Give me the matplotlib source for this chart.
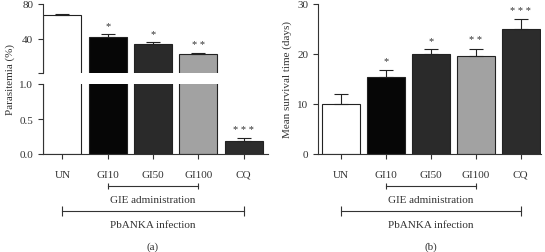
import numpy as np
import matplotlib
matplotlib.use("Agg")
import matplotlib.pyplot as plt
from matplotlib.transforms import blended_transform_factory

plt.rcParams['font.family'] = ['Liberation Serif', 'DejaVu Serif']
plt.rcParams['font.size'] = 8

groups = ['UN', 'GI10', 'GI50', 'GI100', 'CQ']
colors = ['#ffffff', '#060606', '#2a2a2a', '#a2a2a2', '#2c2c2c']

# (a) parasitemia (%)
para_mean = [67.0, 42.0, 34.5, 22.5, 0.18]
para_err = [1.0, 3.5, 2.0, 1.0, 0.05]
para_sig = ['', '*', '*', '* *', '* * *']

# (b) mean survival time (days)
surv_mean = [10.0, 15.4, 20.0, 19.7, 25.0]
surv_err = [2.1, 1.5, 1.0, 1.4, 2.0]
surv_sig = ['', '*', '*', '* *', '* * *']

W, H = 545, 253
fig = plt.figure(figsize=(W / 100, H / 100), dpi=100)

def frac(x0, y0, x1, y1):
    return [x0 / W, 1 - y1 / H, (x1 - x0) / W, (y1 - y0) / H]

ax_top = fig.add_axes(frac(43, 5, 268, 74))
ax_bot = fig.add_axes(frac(43, 85, 268, 155))
ax_b = fig.add_axes(frac(318, 5, 541, 155))

x = np.arange(len(groups))
lw = 0.8
ink = '#333333'


def style(ax):
    for s in ['top', 'right']:
        ax.spines[s].set_visible(False)
    for s in ['left', 'bottom']:
        ax.spines[s].set_linewidth(lw)
        ax.spines[s].set_color(ink)
    ax.tick_params(width=lw, length=3.5, color=ink, labelcolor=ink, labelsize=8)


def bars(ax, mean, err, sig, lo=None):
    mean = np.asarray(mean, dtype=float)
    err = np.asarray(err, dtype=float)
    if lo is not None:
        # hide bars that sit wholly below this segment of the broken axis
        keep = mean > lo
        mean = np.where(keep, mean, np.nan)
        err = np.where(keep, err, np.nan)
    ax.bar(x, mean, width=0.84, color=colors, edgecolor='#222222', linewidth=lw)
    ax.errorbar(x, mean, yerr=[np.zeros(len(mean)), err], fmt='none', capsize=5,
                elinewidth=lw, capthick=lw, ecolor='#222222')
    for xi, m, e, s in zip(x, mean, err, sig):
        if s and np.isfinite(m):
            ax.annotate(s, (xi, m + e), xytext=(0, 4.5), textcoords='offset points',
                        ha='center', va='baseline', fontsize=7.5, color=ink,
                        annotation_clip=True)


# panel (a): broken axis
bars(ax_top, para_mean, para_err, para_sig, lo=1)
bars(ax_bot, para_mean, para_err, para_sig)
for ax in (ax_top, ax_bot):
    style(ax)
    ax.set_xlim(-0.43, 4.54)

ax_top.set_ylim(1, 80)
ax_top.set_yticks([1, 40, 80])
ax_top.set_yticklabels(['', '40', '80'])
ax_top.spines['bottom'].set_visible(False)
ax_top.tick_params(axis='x', bottom=False, labelbottom=False)

ax_bot.set_ylim(0, 1)
ax_bot.set_yticks([0, 0.5, 1.0])
ax_bot.set_yticklabels(['0.0', '0.5', '1.0'])
ax_bot.set_xticks(x)
ax_bot.set_xticklabels(groups)
ax_bot.tick_params(axis='x', pad=8)
fig.text(10 / W, 1 - 80 / H, 'Parasitemia (%)', rotation=90, ha='center', va='center',
         fontsize=8, color=ink)

# panel (b)
bars(ax_b, surv_mean, surv_err, surv_sig)
style(ax_b)
ax_b.set_xlim(-0.51, 4.45)
ax_b.set_ylim(0, 30)
ax_b.set_yticks([0, 10, 20, 30])
ax_b.set_xticks(x)
ax_b.set_xticklabels(groups)
ax_b.tick_params(axis='x', pad=8)
ax_b.set_ylabel('Mean survival time (days)', fontsize=8, color=ink, labelpad=4)


def brackets(ax, label):
    tr = blended_transform_factory(ax.transData, fig.transFigure)
    y1 = 1 - 187 / H
    ax.plot([x[1], x[3]], [y1, y1], color=ink, lw=lw, transform=tr, clip_on=False)
    ax.plot([x[1], x[3]], [y1, y1], ls='none', marker='|', ms=4, mew=lw,
            color=ink, transform=tr, clip_on=False)
    ax.text(x[2], 1 - 201 / H, 'GIE administration', transform=tr, ha='center',
            va='center', fontsize=8, color=ink)
    y2 = 1 - 212 / H
    ax.plot([x[0], x[4]], [y2, y2], color=ink, lw=lw, transform=tr, clip_on=False)
    ax.plot([x[0], x[4]], [y2, y2], ls='none', marker='|', ms=7, mew=lw,
            color=ink, transform=tr, clip_on=False)
    ax.text(x[2], 1 - 226 / H, 'PbANKA infection', transform=tr, ha='center',
            va='center', fontsize=8, color=ink)
    ax.text(x[2], 1 - 247 / H, label, transform=tr, ha='center',
            va='center', fontsize=8, color=ink)


brackets(ax_bot, '(a)')
brackets(ax_b, '(b)')

fig.savefig('out.png', dpi=100)
